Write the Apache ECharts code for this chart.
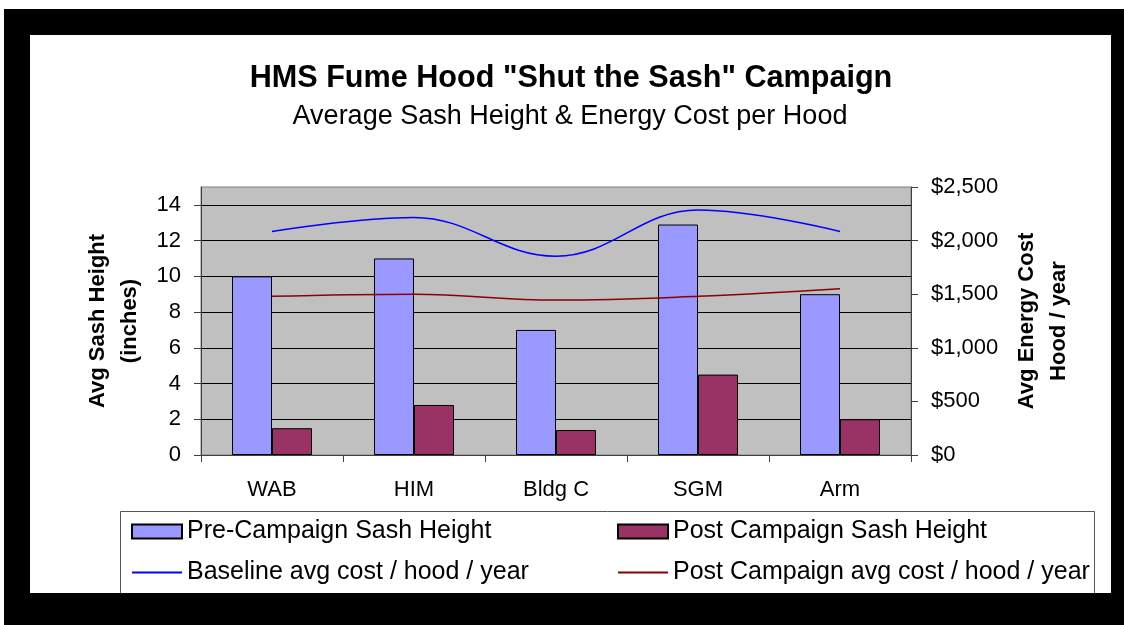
<!DOCTYPE html>
<html>
<head>
<meta charset="utf-8">
<script src="https://cdn.jsdelivr.net/npm/echarts@6/dist/echarts.min.js"></script>
<style>
html,body{margin:0;padding:0;background:#fff;}
#chart{width:1124px;height:625px;}
</style>
</head>
<body>
<div id="chart"></div>
<script>
const categories = ['WAB', 'HIM', 'Bldg C', 'SGM', 'Arm'];
const preSash = [10.0, 11.0, 7.0, 12.9, 9.0];
const postSash = [1.5, 2.8, 1.4, 4.5, 2.0];
const baselineCost = [2085, 2215, 1855, 2285, 2085];
const postCost = [1480, 1500, 1445, 1480, 1550];
const leftTicks = [0, 2, 4, 6, 8, 10, 12, 14];
const rightTicks = [0, 500, 1000, 1500, 2000, 2500];

const FONT = '"Liberation Sans", Arial, sans-serif';
const chart = echarts.init(document.getElementById('chart'));

function money(v) {
  return '$' + String(v).replace(/\B(?=(\d{3})+(?!\d))/g, ',');
}

const legendText = { fontFamily: FONT, fontSize: 25, lineHeight: 24, color: '#000' };

chart.setOption({
  backgroundColor: '#ffffff',
  animation: false,
  textStyle: { fontFamily: FONT, color: '#000' },
  title: [
    {
      text: 'HMS Fume Hood "Shut the Sash" Campaign',
      left: 566, top: 58, textAlign: 'center',
      textStyle: { fontFamily: FONT, fontSize: 30.6, fontWeight: 'bold', color: '#000' }
    },
    {
      text: 'Average Sash Height & Energy Cost per Hood',
      left: 565, top: 98, textAlign: 'center',
      textStyle: { fontFamily: FONT, fontSize: 27, fontWeight: 'normal', color: '#000' }
    }
  ],
  graphic: {
    elements: [
      { type: 'rect', z: -100, shape: { x: 4, y: 9, width: 1120, height: 616 }, style: { fill: '#000' }, silent: true },
      { type: 'rect', z: -99, shape: { x: 30, y: 35, width: 1081, height: 558 }, style: { fill: '#fff' }, silent: true },
      { type: 'polyline', z: 50, shape: { points: [[120.5, 593], [120.5, 511.5], [1094.5, 511.5], [1094.5, 593]] }, style: { fill: null, stroke: '#555', lineWidth: 1 }, silent: true }
    ]
  },
  grid: {
    left: 201, right: 213, top: 187, bottom: 170,
    show: true, backgroundColor: '#C0C0C0', borderColor: '#808080', borderWidth: 1
  },
  legend: [
    {
      data: [
        { name: 'Pre-Campaign Sash Height', icon: 'rect' },
        { name: 'Baseline avg cost / hood / year', itemStyle: { opacity: 0 } }
      ],
      orient: 'vertical', left: 131, top: 519, padding: 0,
      itemWidth: 50, itemHeight: 14, itemGap: 16,
      textStyle: legendText
    },
    {
      data: [
        { name: 'Post Campaign Sash Height', icon: 'rect' },
        { name: 'Post Campaign avg cost / hood / year', itemStyle: { opacity: 0 } }
      ],
      orient: 'vertical', left: 617, top: 519, padding: 0,
      itemWidth: 50, itemHeight: 14, itemGap: 16,
      textStyle: legendText
    }
  ],
  xAxis: {
    type: 'category',
    data: categories,
    axisLine: { lineStyle: { color: '#404040', width: 1 } },
    axisTick: { show: true, length: 7, lineStyle: { color: '#404040' } },
    axisLabel: { margin: 24, fontSize: 22, color: '#000', fontFamily: FONT }
  },
  yAxis: [
    {
      type: 'value', min: 0, max: 15, interval: 2,
      name: 'Avg Sash Height\n(inches)',
      nameLocation: 'middle', nameRotate: 90, nameGap: 54,
      nameTextStyle: { fontFamily: FONT, fontSize: 22, fontWeight: 'bold', lineHeight: 32, color: '#000', align: 'center' },
      axisLine: { show: true, lineStyle: { color: '#404040' } },
      axisTick: { show: true, length: 7, customValues: leftTicks, lineStyle: { color: '#404040' } },
      axisLabel: { margin: 20, fontSize: 22, color: '#000', fontFamily: FONT, customValues: leftTicks,
        formatter: function (v) { return v === 15 ? '' : String(v); } },
      splitLine: { show: true, lineStyle: { color: '#000', width: 1 } }
    },
    {
      type: 'value', min: 0, max: 2500, interval: 500,
      name: 'Avg Energy Cost\nHood / year',
      nameLocation: 'middle', nameRotate: 90, nameGap: 100,
      nameTextStyle: { fontFamily: FONT, fontSize: 22, fontWeight: 'bold', lineHeight: 32, color: '#000', align: 'center' },
      axisLine: { show: true, lineStyle: { color: '#404040' } },
      axisTick: { show: true, length: 7, lineStyle: { color: '#404040' } },
      axisLabel: { margin: 20, fontSize: 22, color: '#000', fontFamily: FONT, formatter: money },
      splitLine: { show: false }
    }
  ],
  series: [
    {
      name: 'Pre-Campaign Sash Height', type: 'bar', yAxisIndex: 0,
      data: preSash, barWidth: 40, barGap: '0%',
      itemStyle: { color: '#9999FF', borderColor: '#000', borderWidth: 1 }
    },
    {
      name: 'Post Campaign Sash Height', type: 'bar', yAxisIndex: 0,
      data: postSash, barWidth: 40, barGap: '0%',
      itemStyle: { color: '#993366', borderColor: '#000', borderWidth: 1 }
    },
    {
      name: 'Baseline avg cost / hood / year', type: 'line', yAxisIndex: 1,
      data: baselineCost, smooth: 0.4, symbol: 'none',
      lineStyle: { color: '#0000FF', width: 1.5 }, itemStyle: { color: '#0000FF' }
    },
    {
      name: 'Post Campaign avg cost / hood / year', type: 'line', yAxisIndex: 1,
      data: postCost, smooth: 0.4, symbol: 'none',
      lineStyle: { color: '#8B0000', width: 1.5 }, itemStyle: { color: '#8B0000' }
    }
  ]
});
</script>
</body>
</html>
